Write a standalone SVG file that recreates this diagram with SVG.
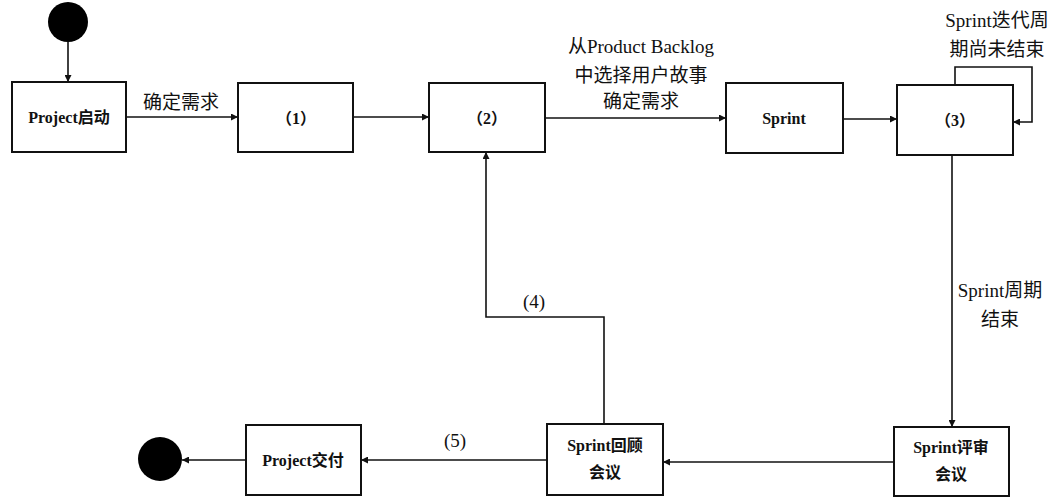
<svg xmlns="http://www.w3.org/2000/svg" width="1061" height="498" viewBox="0 0 1061 498">
<defs>
<style>
.box{fill:#fff;stroke:#111;stroke-width:2}
.ln{fill:none;stroke:#111;stroke-width:1.6;marker-end:url(#ah)}
text{font-family:"Liberation Serif","Noto Sans CJK SC",serif;fill:#111;text-anchor:middle}
.nt{font-size:16px;font-weight:bold}
.lb{font-size:19px}
.dot{fill:#000}
</style>
<marker id="ah" viewBox="0 0 10 10" refX="10" refY="5" markerWidth="7" markerHeight="7" markerUnits="userSpaceOnUse" orient="auto">
<path d="M0,0 L10,5 L0,10 z" fill="#111"/>
</marker>
</defs>
<rect width="1061" height="498" fill="#fff"/>

<g id="connectors">
<line class="ln" x1="68" y1="42" x2="68" y2="82"/>
<line class="ln" x1="126" y1="117" x2="238" y2="117"/>
<line class="ln" x1="353" y1="117" x2="429" y2="117"/>
<line class="ln" x1="545" y1="118" x2="726" y2="118"/>
<line class="ln" x1="843" y1="119" x2="897" y2="119"/>
<polyline class="ln" points="955,85 955,67 1032,67 1032,122 1013,122"/>
<line class="ln" x1="952" y1="155" x2="952" y2="427"/>
<line class="ln" x1="894" y1="462" x2="663" y2="462"/>
<polyline class="ln" points="604,424 604,317 486,317 486,152"/>
<line class="ln" x1="547" y1="460" x2="361" y2="460"/>
<line class="ln" x1="246" y1="460" x2="182" y2="460"/>
<text class="lb" x="181" y="109">确定需求</text>
<text class="lb" x="641" y="53">从Product Backlog</text>
<text class="lb" x="641" y="82">中选择用户故事</text>
<text class="lb" x="641" y="108">确定需求</text>
<text class="lb" x="997" y="27">Sprint迭代周</text>
<text class="lb" x="997" y="56">期尚未结束</text>
<text class="lb" x="1000" y="297">Sprint周期</text>
<text class="lb" x="1000" y="326">结束</text>
<text class="lb" x="534" y="308">(4)</text>
<text class="lb" x="455" y="447">(5)</text>
</g>

<g id="start"><circle class="dot" cx="68" cy="22" r="20"/></g>
<g id="n-start"><rect class="box" x="12" y="82" width="114" height="70"/><text class="nt" x="69" y="123">Project启动</text></g>
<g id="n1"><rect class="box" x="238" y="83" width="115" height="69"/><text class="nt" x="296" y="124">（1）</text></g>
<g id="n2"><rect class="box" x="429" y="83" width="116" height="69"/><text class="nt" x="487" y="124">（2）</text></g>
<g id="n-sprint"><rect class="box" x="726" y="83" width="117" height="70"/><text class="nt" x="784" y="124">Sprint</text></g>
<g id="n3"><rect class="box" x="897" y="85" width="116" height="70"/><text class="nt" x="955" y="126">（3）</text></g>
<g id="n-review"><rect class="box" x="894" y="427" width="115" height="69"/><text class="nt" x="951" y="453">Sprint评审</text><text class="nt" x="951" y="480">会议</text></g>
<g id="n-retro"><rect class="box" x="547" y="424" width="116" height="71"/><text class="nt" x="605" y="451">Sprint回顾</text><text class="nt" x="605" y="478">会议</text></g>
<g id="n-deliver"><rect class="box" x="246" y="425" width="115" height="70"/><text class="nt" x="303" y="466">Project交付</text></g>
<g id="end"><circle class="dot" cx="160" cy="459" r="22"/></g>
</svg>
